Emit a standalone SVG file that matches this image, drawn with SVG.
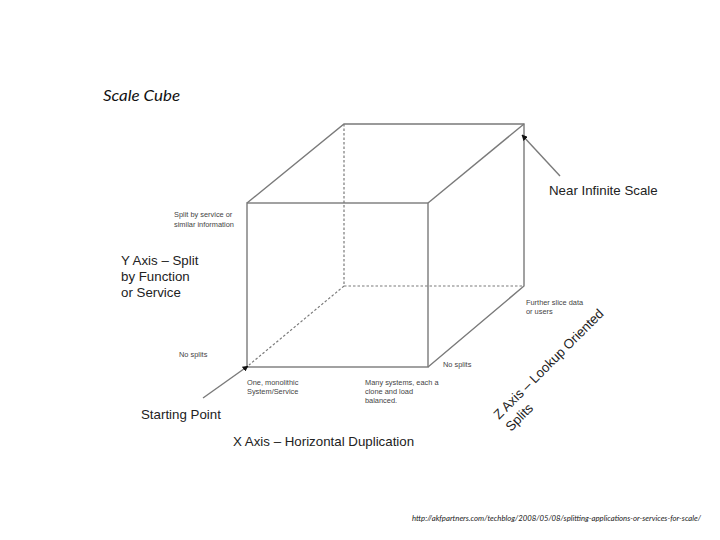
<svg xmlns="http://www.w3.org/2000/svg" width="720" height="540" viewBox="0 0 720 540">
<style>
.edge{stroke:#7a7a7a;stroke-width:1.4;fill:none}
.dash{stroke:#7a7a7a;stroke-width:1.2;fill:none;stroke-dasharray:2.5 2}
.lbl{font-family:"Liberation Sans",Arial,sans-serif;font-size:13.3px;fill:#222}
.sm{font-family:"Liberation Sans",Arial,sans-serif;font-size:7.4px;fill:#444}
.title{font-family:Lato,"Open Sans",sans-serif;font-style:italic;font-size:16px;fill:#111}
.url{font-family:Lato,"Open Sans",sans-serif;font-style:italic;font-size:7.6px;fill:#222}
</style>
<defs>
<marker id="ah" viewBox="0 0 10 10" refX="9" refY="5" markerWidth="6" markerHeight="6" markerUnits="userSpaceOnUse" orient="auto">
<path d="M0,0 L10,5 L0,10 z" fill="#111"/>
</marker>
</defs>
<rect width="720" height="540" fill="#fff"/>
<text class="title" x="103" y="101" textLength="77" lengthAdjust="spacingAndGlyphs">Scale Cube</text>
<g id="cube">
<polyline class="dash" points="344,124 344,286 524,286"/>
<line class="dash" x1="344" y1="286" x2="249" y2="365"/>
<rect class="edge" x="247" y="203" width="181" height="164"/>
<polyline class="edge" points="247,203 344,124 524,124 524,286 428,367"/>
<line class="edge" x1="428" y1="203" x2="524" y2="124"/>
</g>
<g id="connectors">
<line class="edge" x1="203" y1="398" x2="248" y2="366" marker-end="url(#ah)"/>
<line class="edge" x1="560" y1="176" x2="522" y2="135" marker-end="url(#ah)"/>
</g>
<g id="near-infinite">
<text class="lbl" x="549" y="195">Near Infinite Scale</text>
</g>
<g id="y-axis">
<text class="lbl" x="121" y="265">Y Axis – Split</text>
<text class="lbl" x="121" y="281">by Function</text>
<text class="lbl" x="121" y="297">or Service</text>
</g>
<g id="split-service">
<text class="sm" x="174" y="217">Split by service or</text>
<text class="sm" x="174" y="227">similar information</text>
</g>
<g id="no-splits-y">
<text class="sm" x="179" y="357">No splits</text>
</g>
<g id="monolithic">
<text class="sm" x="247" y="385">One, monolithic</text>
<text class="sm" x="247" y="394">System/Service</text>
</g>
<g id="many-systems">
<text class="sm" x="365" y="385">Many systems, each a</text>
<text class="sm" x="365" y="394">clone and load</text>
<text class="sm" x="365" y="403">balanced.</text>
</g>
<g id="no-splits-z">
<text class="sm" x="443" y="367">No splits</text>
</g>
<g id="further-slice">
<text class="sm" x="526" y="305">Further slice data</text>
<text class="sm" x="526" y="314">or users</text>
</g>
<g id="starting-point">
<text class="lbl" x="141" y="419">Starting Point</text>
</g>
<g id="x-axis">
<text class="lbl" x="233" y="446">X Axis – Horizontal Duplication</text>
</g>
<g id="z-axis" transform="translate(499,420) rotate(-45)">
<text class="lbl" x="0" y="0">Z Axis – Lookup Oriented</text>
<text class="lbl" x="0" y="17">Splits</text>
</g>
<text class="url" x="412" y="521" textLength="289" lengthAdjust="spacingAndGlyphs">http://akfpartners.com/techblog/2008/05/08/splitting-applications-or-services-for-scale/</text>
</svg>
